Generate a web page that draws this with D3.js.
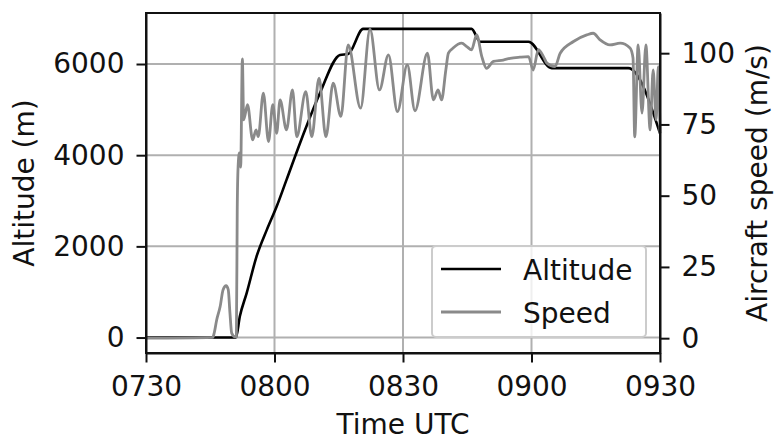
<!DOCTYPE html>
<html><head><meta charset="utf-8">
<script src="https://cdn.jsdelivr.net/npm/d3@7"></script>
<style>
body{margin:0;background:#fff}
text{font-family:"DejaVu Sans",sans-serif;fill:#111}
</style>
</head><body>
<svg id="chart" width="782" height="446"></svg>
<script>
// time in minutes after 07:30 UTC
const altTime  = [0, 21.0, 21.9, 23.5, 25.8, 28.2, 30.5, 32.8, 36.5, 40.6, 45.3, 47.2, 50.7, 76.0, 78.0, 89.3, 94.7, 112.6, 120];
const altValue = [0, 0, 460, 974, 1776, 2362, 2873, 3458, 4400, 5360, 6200, 6220, 6770, 6770, 6490, 6490, 5910, 5910, 4480];

const speedTime  = [0, 15.6, 15.9, 16.5, 17.3, 18.0, 18.7, 19.2, 19.6, 20.0, 20.8, 21.1, 21.3, 21.5, 21.8, 22.1, 22.5, 22.8, 23.7, 24.9,
  25.7, 26.2, 27.4, 28.6, 29.6, 30.5, 31.3, 32.8, 34.2, 35.2, 37.3, 38.7, 40.4, 42.0, 43.7, 45.5, 47.2, 50.1, 52.3, 54.5,
  56.6, 58.7, 61.0, 62.8, 65.7, 67.1, 68.2, 69.0, 70.0, 70.6, 71.7, 73.7, 74.9, 76.0, 77.2, 78.4, 79.5, 81.1, 83.4, 85.0,
  87.3, 89.3, 90.4, 91.6, 92.8, 93.6, 95.5, 96.7, 99.8, 102.9, 104.4, 106.0, 108.3, 110.7, 113.0, 113.7, 114.1, 114.9, 115.8, 116.7,
  117.7, 118.4, 119.1, 119.6, 120];
const speedValue = [0, 0.3, 1.7, 6.4, 11, 17, 18.4, 17, 8.8, 1.8, 0.5, 0.5, 45, 60, 65, 60, 98, 76.6, 81.9, 69.6,
  73.1, 70.7, 86, 69, 81.9, 71.9, 83.6, 73.1, 87.1, 70.7, 86.5, 70.7, 91.2, 70.7, 89.5, 77.8, 102.9, 80.7, 108.4, 87.1,
  99.4, 79.5, 95.9, 79.8, 100, 83.6, 87.1, 83.6, 94.1, 100, 101.8, 103.5, 102.3, 101.2, 106.4, 98.8, 94.7, 97.1, 97.6, 98.2,
  98.6, 98.8, 94.1, 101.2, 98.8, 96.5, 95.3, 100, 104.1, 106.4, 107, 104.7, 102.9, 103.5, 101.8, 98.3, 70.6, 102.9, 79, 102.9,
  73.1, 94.1, 76.6, 95.3, 71.9];

const xTickValues = [0, 30, 60, 90, 120];
const xTickLabels = ["0730", "0800", "0830", "0900", "0930"];
const altTicks = [0, 2000, 4000, 6000];
const speedTicks = [0, 25, 50, 75, 100];
const seriesNames = ["Altitude", "Speed"];
const xTitle = "Time UTC", altTitle = "Altitude (m)", speedTitle = "Aircraft speed (m/s)";

const L = 146, R = 660, T = 13, B = 353;
const FS = 28;
const svg = d3.select("#chart");

const x = d3.scaleLinear().domain([0, 120]).range([L, R]);
const yA = d3.scaleLinear().domain([-339, 7119]).range([B, T]);
const yS = d3.scaleLinear().domain([-5.2, 114.1]).range([B, T]);

// grid
const grid = svg.append("g").attr("stroke", "#b0b0b0").attr("stroke-width", 2);
xTickValues.forEach(v => grid.append("line").attr("x1", x(v)).attr("x2", x(v)).attr("y1", T).attr("y2", B));
altTicks.forEach(v => grid.append("line").attr("x1", L).attr("x2", R).attr("y1", yA(v)).attr("y2", yA(v)));

// lines
const altData = altTime.map((t, i) => [t, altValue[i]]);
const spdData = speedTime.map((t, i) => [t, speedValue[i]]);
svg.append("path").datum(altData)
  .attr("fill", "none").attr("stroke", "#000").attr("stroke-width", 2.6).attr("stroke-linejoin", "round")
  .attr("d", d3.line().curve(d3.curveMonotoneX).x(d => x(d[0])).y(d => yA(d[1])));
svg.append("path").datum(spdData)
  .attr("fill", "none").attr("stroke", "#8a8a8a").attr("stroke-width", 2.8).attr("stroke-linejoin", "round")
  .attr("d", d3.line().curve(d3.curveMonotoneX).x(d => x(d[0])).y(d => yS(d[1])));

// legend
const lg = svg.append("g");
lg.append("rect").attr("x", 432).attr("y", 246).attr("width", 214).attr("height", 91).attr("rx", 4)
  .attr("fill", "#fff").attr("fill-opacity", 0.8).attr("stroke", "#cccccc").attr("stroke-width", 2);
const lgColors = ["#000", "#8a8a8a"];
seriesNames.forEach((n, i) => {
  const cy = 269 + i * 43;
  lg.append("line").attr("x1", 441).attr("x2", 501).attr("y1", cy).attr("y2", cy)
    .attr("stroke", lgColors[i]).attr("stroke-width", i ? 2.8 : 2.6);
  lg.append("text").attr("x", 523).attr("y", cy + 10.5).attr("font-size", FS).text(n);
});

// axes
function style(g) {
  g.selectAll("path.domain").attr("stroke", "#111").attr("stroke-width", 2);
  g.selectAll(".tick line").attr("stroke", "#111").attr("stroke-width", 2);
  g.selectAll(".tick text").attr("font-size", FS).attr("font-family", "DejaVu Sans").attr("fill", "#111");
}
const xAxis = d3.axisBottom(x).tickValues(xTickValues).tickFormat((d, i) => xTickLabels[i])
  .tickSize(9.5).tickPadding(14).tickSizeOuter(0);
svg.append("g").attr("transform", `translate(0,${B})`).call(xAxis).call(style);
const aAxis = d3.axisLeft(yA).tickValues(altTicks).tickFormat(d3.format("d")).tickSize(9.5).tickPadding(12).tickSizeOuter(0);
svg.append("g").attr("transform", `translate(${L},0)`).call(aAxis).call(style);
const sAxis = d3.axisRight(yS).tickValues(speedTicks).tickFormat(d3.format("d")).tickSize(9.5).tickPadding(12).tickSizeOuter(0);
svg.append("g").attr("transform", `translate(${R},0)`).call(sAxis).call(style);

// frame
svg.append("rect").attr("x", L).attr("y", T).attr("width", R - L).attr("height", B - T)
  .attr("fill", "none").attr("stroke", "#111").attr("stroke-width", 2);

// titles
svg.append("text").attr("x", (L + R) / 2).attr("y", 434).attr("text-anchor", "middle").attr("font-size", FS).text(xTitle);
svg.append("text").attr("transform", `translate(34,${(T + B) / 2}) rotate(-90)`).attr("text-anchor", "middle")
  .attr("font-size", FS).text(altTitle);
svg.append("text").attr("transform", `translate(767,${(T + B) / 2}) rotate(-90)`).attr("text-anchor", "middle")
  .attr("font-size", FS).text(speedTitle);
</script>
</body></html>
